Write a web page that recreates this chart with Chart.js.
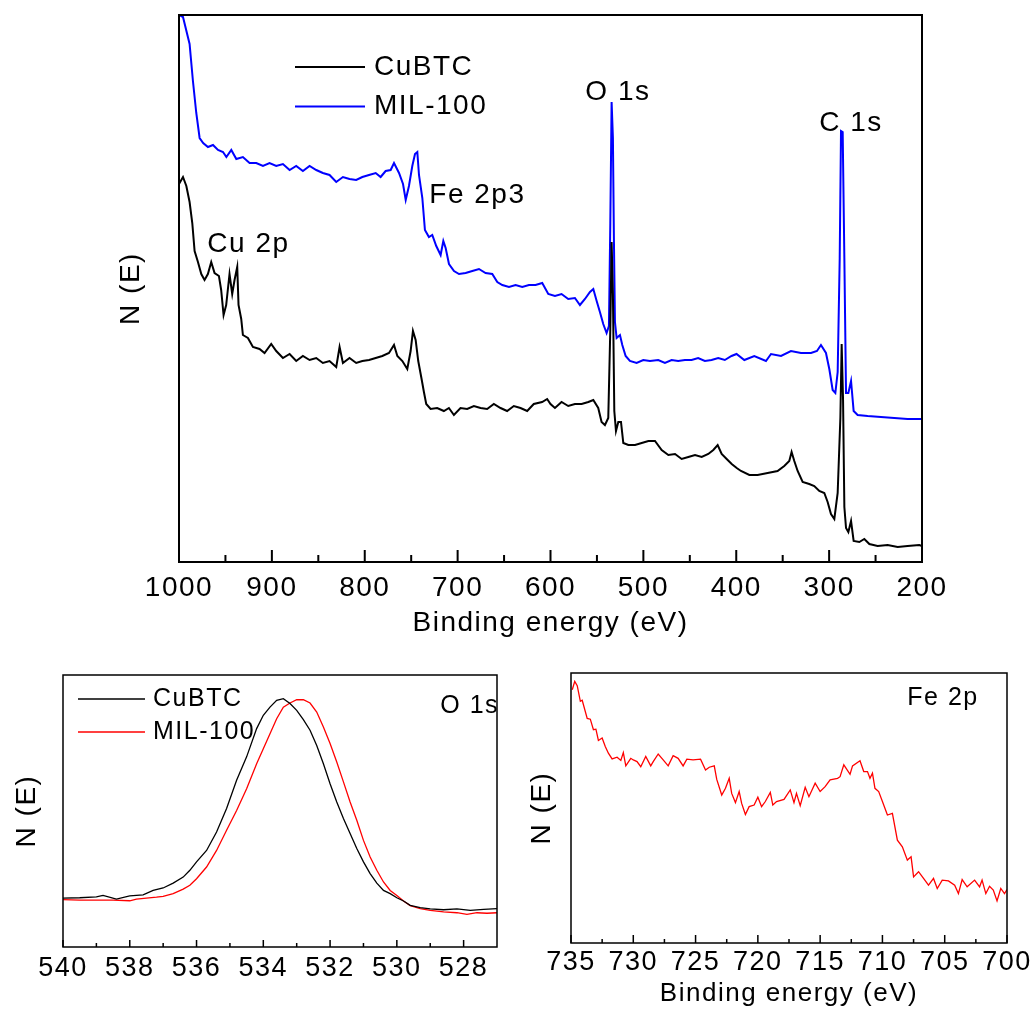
<!DOCTYPE html>
<html>
<head>
<meta charset="utf-8">
<script src="https://cdn.jsdelivr.net/npm/chart.js@4.4.1/dist/chart.umd.min.js"></script>
<style>
  html, body { margin: 0; padding: 0; background: #fff; }
  #wrap { position: relative; width: 1034px; height: 1009px; }
  canvas { position: absolute; }
</style>
</head>
<body>
<div id="wrap">
  <canvas id="survey" width="1034" height="650" style="left:0;top:0"></canvas>
  <canvas id="o1s" width="517" height="359" style="left:0;top:650px"></canvas>
  <canvas id="fe2p" width="517" height="359" style="left:517px;top:650px"></canvas>
</div>
<script>
/* XPS: survey (CuBTC / MIL-100), O 1s and Fe 2p detail.
   N(E) in arbitrary units. */

// ---- survey, CuBTC
const surveyCuE = [1000, 995.7, 992.1, 988.6, 985.7, 983.2, 979.6, 976, 972.5, 968.9,
  965.3, 961.7, 957, 954.6, 952, 949.2, 945.6, 942.7, 940.2, 937.3,
  935.9, 933, 931.2, 925.8, 920.4, 913.3, 907.9, 900.7, 895.3, 888.1,
  880.9, 873.8, 866.6, 859.4, 852.2, 845.1, 837.9, 830.7, 827.1, 823.5,
  816.4, 809.2, 802.6, 795.4, 788.2, 781.1, 773.9, 768.5, 764.9, 759.5,
  754.2, 750.6, 748.1, 745.2, 742.4, 738.8, 736.3, 733.8, 729.1, 722,
  714.8, 709.4, 704, 696.9, 689.7, 682.5, 675.3, 668.2, 661, 653.8,
  646.7, 639.5, 632.3, 625.1, 618, 609, 603.6, 600, 595.2, 588.1,
  580.9, 573.7, 566.5, 559.3, 553.9, 548.6, 545, 541.4, 537.8, 535.6,
  534.2, 532.8, 531.3, 529.5, 527, 524.1, 521.6, 516.2, 509, 501.8,
  494.6, 487.5, 480.3, 473.1, 465.9, 458.8, 451.6, 444.4, 437.2, 430.1,
  424.7, 420, 415.7, 410.3, 404.9, 399.5, 394.9, 385.9, 377, 366.2,
  355.5, 348.3, 342.9, 340.4, 337.5, 333.9, 328.5, 321.4, 316, 310.6,
  305.2, 301.6, 298, 294.4, 290.8, 287.9, 286.5, 285, 283.6, 281.8,
  279.3, 276.4, 273.6, 267.5, 262.1, 256.7, 247.8, 237, 226.2, 215.5,
  202.9, 200];
const surveyCuN = [378, 385, 376, 360, 339, 311, 300, 288, 282, 288,
  300, 289, 286, 272, 247, 257, 288, 268, 282, 295,
  257, 243, 227, 224, 215, 213, 209, 218, 211, 204,
  208, 201, 206, 202, 204, 199, 201, 195, 215, 199,
  204, 199, 201, 202, 204, 206, 209, 217, 206, 201,
  193, 211, 231, 222, 201, 183, 170, 158, 153, 154,
  151, 154, 147, 154, 153, 156, 154, 153, 158, 154,
  151, 156, 154, 151, 158, 160, 163, 158, 154, 160,
  156, 158, 158, 160, 162, 154, 140, 137, 144, 233,
  320, 268, 151, 131, 140, 140, 119, 117, 117, 119,
  121, 121, 112, 107, 108, 103, 105, 107, 105, 108,
  112, 117, 108, 103, 98, 94, 91, 87, 87, 89,
  91, 96, 101, 110, 101, 91, 80, 78, 76, 71,
  69, 60, 48, 43, 69, 144, 218, 162, 55, 34,
  30, 41, 21, 20, 23, 18, 16, 17, 15, 16,
  17, 16];

// ---- survey, MIL-100
const surveyMilE = [1000, 995.7, 988.6, 985, 981.4, 977.8, 974, 968.8, 963.4, 958,
  952.6, 949, 943.7, 938.3, 931.2, 924, 916.8, 909.6, 902.5, 895.3,
  888.1, 880.9, 873.8, 866.6, 859.4, 852.2, 845.1, 837.9, 830.7, 823.5,
  816.4, 809.2, 802.6, 795.4, 788.2, 782.9, 777.5, 772.1, 768.5, 763.1,
  758.8, 755.9, 752.4, 748.8, 745.9, 743.4, 741.6, 738, 735.2, 730.9,
  727.3, 723, 718.3, 715.4, 712.9, 709.3, 703.9, 698.5, 691.4, 684.2,
  677, 669.9, 662.7, 657.3, 651.9, 644.7, 637.6, 630.4, 623.2, 616.1,
  608.9, 602.4, 595.2, 588.1, 580.9, 573.7, 568.3, 562.9, 557.5, 553.9,
  550.3, 546.8, 543.2, 539.6, 537.1, 535.6, 534.2, 532.8, 531.7, 530.6,
  528.8, 525.2, 522.7, 519.1, 514.5, 507.3, 500.1, 492.9, 484, 476.8,
  469.6, 462.5, 455.3, 448.1, 441, 433.8, 426.6, 419.4, 412.3, 405.1,
  399.7, 391.3, 380.6, 368, 362.6, 351.8, 341.1, 330.3, 319.5, 313.1,
  308.8, 303.4, 299.8, 296.2, 293.3, 290.8, 288.6, 287.2, 285.4, 283.6,
  281.8, 279.3, 276.4, 273.6, 269.3, 258.5, 244.2, 229.8, 215.5, 202.9,
  200];
const surveyMilN = [547, 545, 518, 481, 449, 424, 419, 415, 417, 412,
  410, 405, 412, 403, 405, 399, 399, 396, 399, 396,
  398, 392, 396, 391, 396, 392, 389, 387, 380, 385,
  383, 382, 385, 387, 389, 385, 391, 392, 399, 389,
  378, 362, 376, 396, 408, 410, 387, 364, 332, 325,
  327, 316, 307, 321, 314, 298, 291, 288, 289, 291,
  293, 289, 288, 280, 277, 275, 277, 275, 277, 277,
  279, 268, 266, 268, 263, 264, 257, 263, 270, 273,
  261, 250, 238, 229, 236, 339, 460, 424, 321, 240,
  224, 227, 217, 206, 201, 199, 202, 201, 202, 199,
  202, 201, 202, 202, 204, 201, 202, 204, 202, 206,
  208, 202, 206, 201, 208, 206, 211, 209, 209, 211,
  217, 209, 193, 172, 169, 190, 304, 431, 430, 304,
  169, 169, 181, 151, 147, 146, 145, 144, 143, 143,
  143];

const surveyTicks = [1000, 900, 800, 700, 600, 500, 400, 300, 200];
const surveyMinor = [950, 850, 750, 650, 550, 450, 350, 250];

// ---- O 1s detail
const o1sCuE = [540, 539.5, 539, 538.8, 538.4, 538, 537.6, 537.3, 537, 536.7,
  536.4, 536.2, 536, 535.7, 535.4, 535.1, 534.8, 534.5, 534.2, 534,
  533.8, 533.6, 533.4, 533.2, 533, 532.8, 532.6, 532.4, 532.2, 532,
  531.8, 531.6, 531.4, 531.2, 531, 530.8, 530.6, 530.4, 530.2, 530,
  529.8, 529.6, 529.3, 529, 528.6, 528.2, 527.8, 527.4, 527];
const o1sCuN = [18.0, 18.1, 18.4, 19.0, 17.6, 18.8, 19.2, 20.8, 21.7, 23.5,
  25.7, 28.2, 31.3, 35.5, 42.3, 50.9, 61.3, 69.9, 80.3, 85.2,
  88.2, 90.7, 91.3, 89.5, 87.0, 83.6, 79.7, 74.1, 67.4, 60.0,
  53.3, 47.2, 41.7, 36.2, 31.3, 27.0, 23.5, 20.8, 19.6, 18.1,
  16.9, 15.3, 14.5, 14.0, 13.7, 14.0, 13.5, 13.8, 14.1];
const o1sMilE = [540, 539.5, 539, 538.5, 538, 537.8, 537.5, 537.2, 537, 536.7,
  536.4, 536.2, 536, 535.7, 535.4, 535.1, 534.8, 534.5, 534.2, 534,
  533.8, 533.6, 533.4, 533.2, 533, 532.8, 532.6, 532.4, 532.2, 532,
  531.8, 531.6, 531.4, 531.2, 531, 530.8, 530.6, 530.4, 530.2, 530,
  529.8, 529.6, 529.3, 529, 528.6, 528.2, 527.9, 527.6, 527.3, 527];
const o1sMilN = [17.4, 17.2, 17.2, 17.2, 17.0, 17.6, 18.0, 18.3, 18.6, 19.6,
  21.3, 22.7, 25.1, 29.4, 35.5, 42.9, 50.2, 58.2, 67.4, 72.9,
  78.4, 83.9, 88.2, 89.7, 90.9, 90.9, 89.7, 86.4, 80.9, 74.8,
  68.0, 60.7, 53.3, 46.6, 39.2, 33.1, 28.2, 23.9, 20.8, 18.9,
  16.9, 15.2, 14.1, 13.5, 12.9, 12.6, 12.0, 12.6, 12.4, 12.6];
const o1sTicks = [540, 538, 536, 534, 532, 530, 528];
const o1sMinor = [539, 537, 535, 533, 531, 529];

// ---- Fe 2p detail (MIL-100)
const fe2pE = [734.9, 734.7, 734.5, 734.25, 734.1, 733.7, 733.45, 733.2, 733, 732.8,
  732.5, 732.25, 732, 731.7, 731.3, 731, 730.8, 730.6, 730.2, 730,
  729.7, 729.4, 729, 728.6, 728.4, 728, 727.6, 727.2, 726.8, 726.4,
  726, 725.7, 725.2, 724.6, 724.2, 723.9, 723.5, 723.3, 722.9, 722.6,
  722.3, 722.1, 721.8, 721.5, 721.3, 721, 720.7, 720.3, 720, 719.7,
  719.4, 719, 718.8, 718.5, 717.9, 717.4, 717.1, 716.9, 716.6, 716.2,
  715.9, 715.4, 715, 714.6, 714.2, 713.6, 713.4, 713.1, 712.6, 712.4,
  711.8, 711.5, 711.2, 711, 710.8, 710.6, 710.3, 710, 709.6, 709.2,
  708.8, 708.4, 708, 707.7, 707.5, 707.1, 706.7, 706.3, 705.9, 705.6,
  705.2, 704.7, 704.2, 703.9, 703.6, 703.2, 702.6, 702.2, 702, 701.7,
  701.4, 701.1, 700.8, 700.5, 700.2, 700];
const fe2pN = [93.8, 96.9, 95.3, 89.5, 89.9, 83.2, 82.9, 79.0, 79.2, 75.0,
  75.9, 72.8, 70.3, 68.2, 68.8, 67.6, 70.5, 65.6, 68.4, 67.8,
  67.2, 65.3, 69.1, 65.6, 67.2, 70.0, 67.8, 65.6, 69.4, 68.4,
  65.6, 68.1, 67.8, 68.1, 64.1, 65.1, 65.6, 60.6, 54.8, 57.3,
  61.0, 55.4, 52.0, 56.1, 51.7, 47.6, 50.5, 51.1, 54.0, 50.5,
  52.4, 55.8, 51.1, 52.4, 53.2, 56.7, 52.0, 55.4, 50.9, 57.7,
  54.2, 59.2, 56.1, 57.9, 60.4, 61.0, 61.6, 66.0, 62.5, 65.6,
  67.5, 63.5, 63.5, 61.0, 62.9, 57.3, 56.1, 52.4, 47.4, 48.0,
  38.1, 35.6, 30.7, 31.9, 24.5, 26.4, 23.9, 21.4, 23.9, 20.2,
  23.3, 23.0, 21.4, 18.3, 23.5, 20.8, 23.3, 20.8, 23.3, 18.3,
  21.0, 19.6, 15.6, 20.2, 18.3, 19.8];
const fe2pTicks = [735, 730, 725, 720, 715, 710, 705, 700];
const fe2pMinor = [732.5, 727.5, 722.5, 717.5, 712.5, 707.5, 702.5];

const FONT = "'Liberation Sans', Arial, sans-serif";
Chart.defaults.font.family = FONT;
Chart.defaults.color = '#000';

const pts = (xs, ys) => xs.map((x, i) => ({ x, y: ys[i] }));

/* Plugin: marco completo + ticks hacia dentro en el eje x */
function framePlugin({ lineWidth, major, minor, majorLen, minorLen }) {
  return {
    id: 'frame',
    beforeDraw(chart) { chart.ctx.letterSpacing = '1.5px'; },
    afterDatasetsDraw(chart) {
      const { ctx, chartArea: a, scales: { x } } = chart;
      ctx.save();
      ctx.strokeStyle = '#000';
      ctx.lineWidth = lineWidth;
      ctx.strokeRect(a.left, a.top, a.right - a.left, a.bottom - a.top);
      ctx.beginPath();
      major.forEach((v) => { const p = x.getPixelForValue(v); ctx.moveTo(p, a.bottom); ctx.lineTo(p, a.bottom - majorLen); });
      minor.forEach((v) => { const p = x.getPixelForValue(v); ctx.moveTo(p, a.bottom); ctx.lineTo(p, a.bottom - minorLen); });
      ctx.stroke();
      ctx.restore();
    },
  };
}

/* Plugin: leyenda dentro del área (lee label / color de los datasets) */
function legendPlugin({ dx, dy, gap, len, textGap, size, lineWidth }) {
  return {
    id: 'insetLegend',
    afterDraw(chart) {
      const { ctx, chartArea: a } = chart;
      ctx.save();
      ctx.font = size + 'px ' + FONT;
      ctx.textBaseline = 'middle';
      chart.data.datasets.forEach((ds, i) => {
        const y = a.top + dy + i * gap;
        ctx.strokeStyle = ds.borderColor;
        ctx.lineWidth = lineWidth;
        ctx.beginPath();
        ctx.moveTo(a.left + dx, y);
        ctx.lineTo(a.left + dx + len, y);
        ctx.stroke();
        ctx.fillStyle = '#000';
        ctx.fillText(ds.label, a.left + dx + len + textGap, y);
      });
      ctx.restore();
    },
  };
}

/* Plugin: etiquetas de picos, posicionadas en unidades de datos */
function labelPlugin(items, size) {
  return {
    id: 'peakLabels',
    afterDraw(chart) {
      const { ctx, scales: { x, y } } = chart;
      ctx.save();
      ctx.font = size + 'px ' + FONT;
      ctx.fillStyle = '#000';
      ctx.textAlign = 'left';
      ctx.textBaseline = 'middle';
      items.forEach((it) => ctx.fillText(it.text, x.getPixelForValue(it.x), y.getPixelForValue(it.y)));
      ctx.restore();
    },
  };
}

function line(label, data, color, width) {
  return { label, data, borderColor: color, backgroundColor: color, borderWidth: width,
    pointRadius: 0, tension: 0, fill: false };
}

function xAxis({ min, max, ticks, size, pad, height, title, titleSize, titlePad }) {
  return {
    type: 'linear', min, max, reverse: true,
    grid: { display: false, drawTicks: false }, border: { display: false },
    ticks: { font: { size }, padding: pad, autoSkip: false, maxRotation: 0, callback: (v) => String(v) },
    afterBuildTicks: (s) => { s.ticks = ticks.map((v) => ({ value: v })); },
    afterFit: (s) => { s.height = height; },
    title: title
      ? { display: true, text: title, font: { size: titleSize }, padding: { top: 0, bottom: titlePad } }
      : { display: false },
  };
}

function yAxis({ max, width, titlePad }) {
  return {
    type: 'linear', min: 0, max,
    grid: { display: false }, border: { display: false }, ticks: { display: false },
    afterFit: (s) => { s.width = width; },
    title: { display: true, text: 'N (E)', font: { size: 28 }, padding: { top: titlePad, bottom: 0 } },
  };
}

const common = {
  responsive: false, animation: false, events: [],
  plugins: { legend: { display: false }, tooltip: { enabled: false } },
};

// ---- survey
new Chart(document.getElementById('survey'), {
  type: 'line',
  data: { datasets: [
    line('CuBTC', pts(surveyCuE, surveyCuN), '#000000', 2),
    line('MIL-100', pts(surveyMilE, surveyMilN), '#0000ff', 2),
  ] },
  options: {
    ...common,
    layout: { padding: { top: 15, right: 112, left: 0, bottom: 0 } },
    scales: {
      x: xAxis({ min: 200, max: 1000, ticks: surveyTicks, size: 28, pad: 9, height: 88,
        title: 'Binding energy (eV)', titleSize: 28, titlePad: 10 }),
      y: yAxis({ max: 547, width: 179, titlePad: 114 }),
    },
  },
  plugins: [
    framePlugin({ lineWidth: 2, major: surveyTicks, minor: surveyMinor, majorLen: 12, minorLen: 7 }),
    legendPlugin({ dx: 116, dy: 52, gap: 39.5, len: 70, textGap: 9, size: 28, lineWidth: 2 }),
    labelPlugin([
      { text: 'Cu 2p', x: 969.5, y: 318 },
      { text: 'Fe 2p3', x: 730.5, y: 367 },
      { text: 'O 1s', x: 562.5, y: 470 },
      { text: 'C 1s', x: 310.6, y: 439 },
    ], 28),
  ],
});

// ---- O 1s
new Chart(document.getElementById('o1s'), {
  type: 'line',
  data: { datasets: [
    line('CuBTC', pts(o1sCuE, o1sCuN), '#000000', 1.3),
    line('MIL-100', pts(o1sMilE, o1sMilN), '#ff0000', 1.3),
  ] },
  options: {
    ...common,
    layout: { padding: { top: 25, right: 20, left: 0, bottom: 0 } },
    scales: {
      x: xAxis({ min: 527, max: 540, ticks: o1sTicks, size: 27, pad: 5, height: 62 }),
      y: yAxis({ max: 100, width: 63, titlePad: 10 }),
    },
  },
  plugins: [
    framePlugin({ lineWidth: 1.5, major: o1sTicks, minor: o1sMinor, majorLen: 7, minorLen: 4 }),
    legendPlugin({ dx: 15, dy: 24, gap: 33, len: 67, textGap: 8, size: 25, lineWidth: 1.3 }),
    labelPlugin([{ text: 'O 1s', x: 528.7, y: 88.5 }], 25),
  ],
});

// ---- Fe 2p
new Chart(document.getElementById('fe2p'), {
  type: 'line',
  data: { datasets: [
    line('MIL-100', pts(fe2pE, fe2pN), '#ff0000', 1.3),
  ] },
  options: {
    ...common,
    layout: { padding: { top: 23, right: 27, left: 0, bottom: 0 } },
    scales: {
      x: xAxis({ min: 700, max: 735, ticks: fe2pTicks, size: 27, pad: 3, height: 66,
        title: 'Binding energy (eV)', titleSize: 26, titlePad: 0 }),
      y: yAxis({ max: 100, width: 54, titlePad: 8 }),
    },
  },
  plugins: [
    framePlugin({ lineWidth: 1.5, major: fe2pTicks, minor: fe2pMinor, majorLen: 8, minorLen: 4 }),
    labelPlugin([{ text: 'Fe 2p', x: 708.0, y: 90.8 }], 25),
  ],
});
</script>
</body>
</html>
